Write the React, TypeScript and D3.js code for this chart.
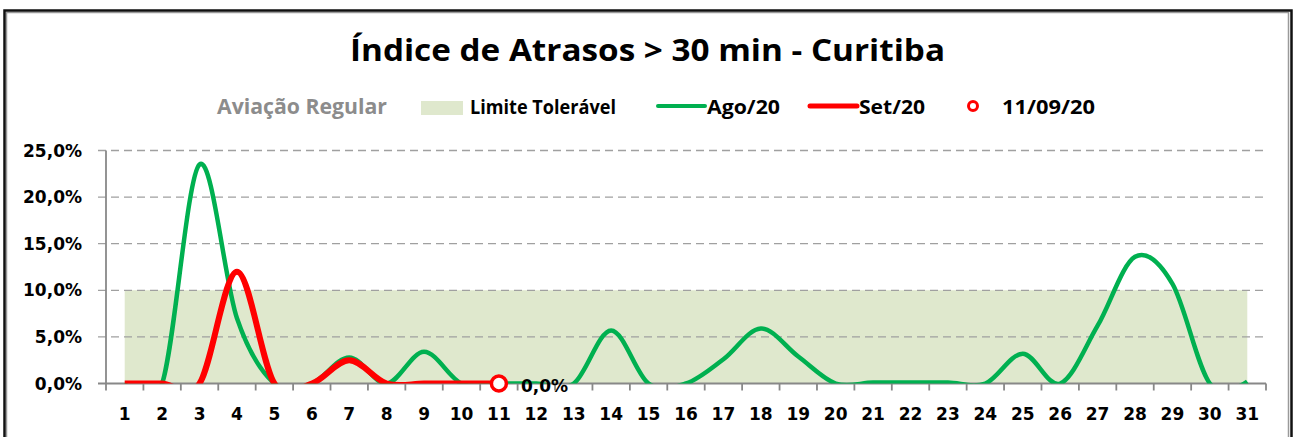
import React from "react";
import * as d3 from "d3";

// Days of the month on the x axis
const days = d3.range(1, 32).map(String);

// Delay index (%) per day
const ago20 = [0, 0, 23.5, 7.0, 0, 0, 2.8, 0, 3.4, 0, 0, 0, 0, 5.7, 0, 0, 2.6, 5.9, 2.9, 0, 0.1, 0.1, 0.1, 0, 3.2, 0, 6.2, 13.6, 10.7, 0, 0.2];
const set20 = [0, 0, 0, 12.0, 0, 0, 2.5, 0, 0, 0, 0];
const limite = days.map(() => 10);
const markerDay = "11";
const markerValue = 0;
const markerLabel = "0,0%";

const yTicks = [0, 5, 10, 15, 20, 25];
const fmtPct = (v: number) => v.toFixed(1).replace(".", ",") + "%";

const W = 1293;
const H = 437;
const numFont = "'DejaVu Sans', Verdana, sans-serif";
const txtFont = "'Open Sans', 'Noto Sans', sans-serif";

const App = () => {
  const x = d3.scalePoint<string>().domain(days).range([106, 1266]).padding(0.5);
  const y = d3.scaleLinear().domain([0, 25]).range([383.5, 150.5]);
  const step = x.step();

  const line = d3
    .line<number>()
    .x((_, i) => x(days[i]) as number)
    .y(d => y(d))
    .curve(d3.curveCatmullRom.alpha(0));

  const area = d3
    .area<number>()
    .x((_, i) => x(days[i]) as number)
    .y0(y(0))
    .y1(d => y(d));

  const boundaries = d3.range(0, days.length + 1).map(i => 106 + i * step);

  return (
    <svg
      width={W}
      height={H}
      style={{ position: "absolute", left: 0, top: 0, background: "#fff" }}
    >
      <defs>
        <clipPath id="plot">
          <rect x={106} y={120} width={1160} height={y(0) - 120} />
        </clipPath>
      </defs>

      {/* chart frame */}
      <rect x={6.5} y={12.5} width={1282} height={440} fill="none" stroke="#9a9a9a" strokeWidth={1.5} />
      <rect x={4.5} y={10.5} width={1287} height={440} fill="none" stroke="#111" strokeWidth={2.5} />

      {/* title */}
      <text
        x={647.5}
        y={61}
        textAnchor="middle"
        fontFamily={txtFont}
        fontWeight="bold"
        fontSize={31}
        textLength={595}
        lengthAdjust="spacingAndGlyphs"
        fill="#000"
      >
        Índice de Atrasos &gt; 30 min - Curitiba
      </text>

      {/* legend */}
      <g fontFamily={txtFont} fontWeight="bold">
        <text x={217} y={113.5} fontSize={22} fill="#8c8c8c" textLength={170} lengthAdjust="spacingAndGlyphs">
          Aviação Regular
        </text>
        <rect x={421} y={101} width={42} height={14} fill="#dfe8cd" />
        <text x={470} y={114} fontSize={19} fill="#000" textLength={146} lengthAdjust="spacingAndGlyphs">
          Limite Tolerável
        </text>
        <line x1={658} x2={705} y1={106} y2={106} stroke="#00b050" strokeWidth={4} strokeLinecap="round" />
        <text x={707} y={114} fontSize={19} fill="#000" textLength={73} lengthAdjust="spacingAndGlyphs">
          Ago/20
        </text>
        <line x1={810} x2={857} y1={106} y2={106} stroke="#ff0000" strokeWidth={5} strokeLinecap="round" />
        <text x={859} y={114} fontSize={19} fill="#000" textLength={66} lengthAdjust="spacingAndGlyphs">
          Set/20
        </text>
        <circle cx={973} cy={106} r={4.5} fill="#fff" stroke="#ff0000" strokeWidth={3} />
        <text x={1002} y={114} fontSize={19} fill="#000" textLength={93} lengthAdjust="spacingAndGlyphs">
          11/09/20
        </text>
      </g>

      {/* tolerable limit band */}
      <path d={area(limite) as string} fill="#dfe8cd" />

      {/* gridlines */}
      {yTicks.filter(t => t > 0).map(t => (
        <line
          key={t}
          x1={98}
          x2={1266}
          y1={y(t)}
          y2={y(t)}
          stroke="#a0a0a0"
          strokeWidth={1.3}
          strokeDasharray="8,5"
        />
      ))}

      {/* axes */}
      <g stroke="#888" strokeWidth={1.8}>
        <line x1={106} x2={106} y1={y(25)} y2={y(0)} />
        <line x1={98} x2={1266} y1={y(0)} y2={y(0)} />
        {boundaries.map((b, i) => (
          <line key={i} x1={b} x2={b} y1={y(0)} y2={y(0) + 7} />
        ))}
      </g>

      {/* y labels */}
      <g fontFamily={numFont} fontWeight="bold" fontSize={17} fill="#000" textAnchor="end">
        {yTicks.map(t => (
          <text key={t} x={82} y={y(t) + 6}>
            {fmtPct(t)}
          </text>
        ))}
      </g>

      {/* x labels */}
      <g fontFamily={numFont} fontWeight="bold" fontSize={17} fill="#000" textAnchor="middle">
        {days.map(d => (
          <text key={d} x={x(d)} y={420}>
            {d}
          </text>
        ))}
      </g>

      {/* series */}
      <g clipPath="url(#plot)" fill="none" strokeLinejoin="round">
        <path d={line(ago20) as string} stroke="#00b050" strokeWidth={4.5} />
        <path d={line(set20) as string} stroke="#ff0000" strokeWidth={6} />
      </g>

      {/* 11/09/20 marker */}
      <circle cx={x(markerDay)} cy={y(markerValue)} r={7.5} fill="#fff" stroke="#ff0000" strokeWidth={3.5} />
      <text
        x={(x(markerDay) as number) + 22}
        y={y(markerValue) + 8}
        fontFamily={numFont}
        fontWeight="bold"
        fontSize={17}
        fill="#000"
      >
        {markerLabel}
      </text>
    </svg>
  );
};

export default App;
